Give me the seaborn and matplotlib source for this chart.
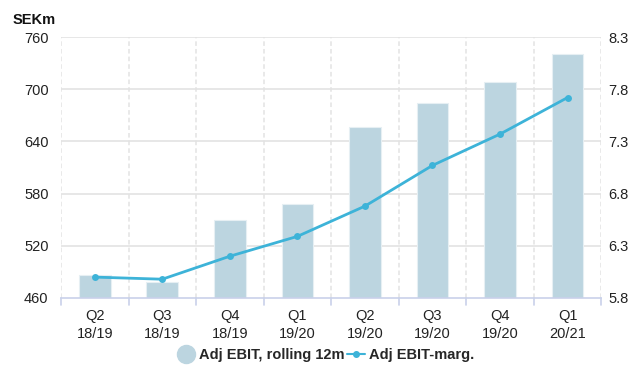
import numpy as np
import pandas as pd
import matplotlib
matplotlib.use("Agg")
import matplotlib.pyplot as plt
from matplotlib.lines import Line2D
import seaborn as sns

# Quarterly data
quarters = ["Q2\n18/19", "Q3\n18/19", "Q4\n18/19", "Q1\n19/20",
            "Q2\n19/20", "Q3\n19/20", "Q4\n19/20", "Q1\n20/21"]
adj_ebit_rolling = [486, 478, 550, 568, 657, 684, 708, 740]      # SEKm
adj_ebit_margin = [6.00, 5.98, 6.20, 6.39, 6.68, 7.07, 7.37, 7.72]  # %

left_ticks = [460, 520, 580, 640, 700, 760]
right_ticks = [5.8, 6.3, 6.8, 7.3, 7.8, 8.3]

BAR_COLOR = "#bcd5e0"
LINE_COLOR = "#3db3d8"
GRID_COLOR = "#e3e3e3"
AXIS_COLOR = "#c9d1ea"

sns.set_theme(style="white")
plt.rcParams["font.family"] = ["Liberation Sans", "DejaVu Sans"]

df = pd.DataFrame({"quarter": quarters,
                   "ebit": adj_ebit_rolling,
                   "margin": adj_ebit_margin,
                   "pos": np.arange(len(quarters))})

fig = plt.figure(figsize=(6.32, 3.65), dpi=100)
ax = fig.add_axes([0.0965, 0.1836, 0.855, 0.715])

sns.barplot(data=df, x="quarter", y="ebit", color=BAR_COLOR, width=0.47,
            saturation=1, edgecolor="#e6eff3", linewidth=0.8, ax=ax, zorder=2)
ax.set_ylim(left_ticks[0], left_ticks[-1])
ax.set_yticks(left_ticks)
ax.set_xlim(-0.5, len(quarters) - 0.5)
ax.set_xlabel("")
ax.set_ylabel("")

# grid: solid horizontal, dashed vertical at category boundaries
for y in left_ticks[1:]:
    ax.axhline(y, color=GRID_COLOR, lw=1.2, zorder=0)
for b in np.arange(-0.5, len(quarters), 1.0):
    ax.axvline(b, color=GRID_COLOR, lw=1.1, ls=(0, (3, 2)), zorder=0)

for s in ["top", "left", "right"]:
    ax.spines[s].set_visible(False)
ax.spines["bottom"].set_color(AXIS_COLOR)
ax.spines["bottom"].set_linewidth(1.2)
ax.spines["bottom"].set_zorder(3)

ax.tick_params(axis="y", length=0, pad=9, labelsize=10.5, labelcolor="#222222")
ax.tick_params(axis="x", length=0, pad=8, labelsize=10.5, labelcolor="#222222")
ax.set_xticks(np.arange(len(quarters)))
ax.set_xticklabels(quarters, linespacing=1.35)
for b in np.arange(-0.5, len(quarters), 1.0):
    ax.plot([b, b], [0, -0.025], transform=ax.get_xaxis_transform(),
            color=AXIS_COLOR, lw=1.2, clip_on=False)

ax2 = ax.twinx()
sns.lineplot(data=df, x="pos", y="margin", color=LINE_COLOR, lw=2,
             marker="o", markersize=5, markeredgewidth=0, ax=ax2, zorder=4)
ax2.set_ylim(right_ticks[0], right_ticks[-1])
ax2.set_yticks(right_ticks)
ax2.set_yticklabels([f"{t:.1f}" for t in right_ticks])
ax2.set_ylabel("")
ax2.set_xlabel("")
for s in ax2.spines.values():
    s.set_visible(False)
ax2.tick_params(axis="y", length=0, pad=5, labelsize=10.5, labelcolor="#222222")
ax2.set_xlim(-0.5, len(quarters) - 0.5)

fig.text(0.02, 0.935, "SEKm", fontsize=10.5, fontweight="bold", color="#111111")

handles = [
    Line2D([], [], ls="none", marker="o", markersize=13, color=BAR_COLOR),
    Line2D([], [], color=LINE_COLOR, lw=1.5, marker="o", markersize=4),
]
fig.legend(handles, ["Adj EBIT, rolling 12m", "Adj EBIT-marg."],
           loc="center", bbox_to_anchor=(0.515, 0.028), ncol=2, frameon=False,
           handlelength=1.2, handletextpad=0.3, columnspacing=0.2,
           prop={"weight": "bold", "size": 10.5})

fig.savefig("out.png", dpi=100)
